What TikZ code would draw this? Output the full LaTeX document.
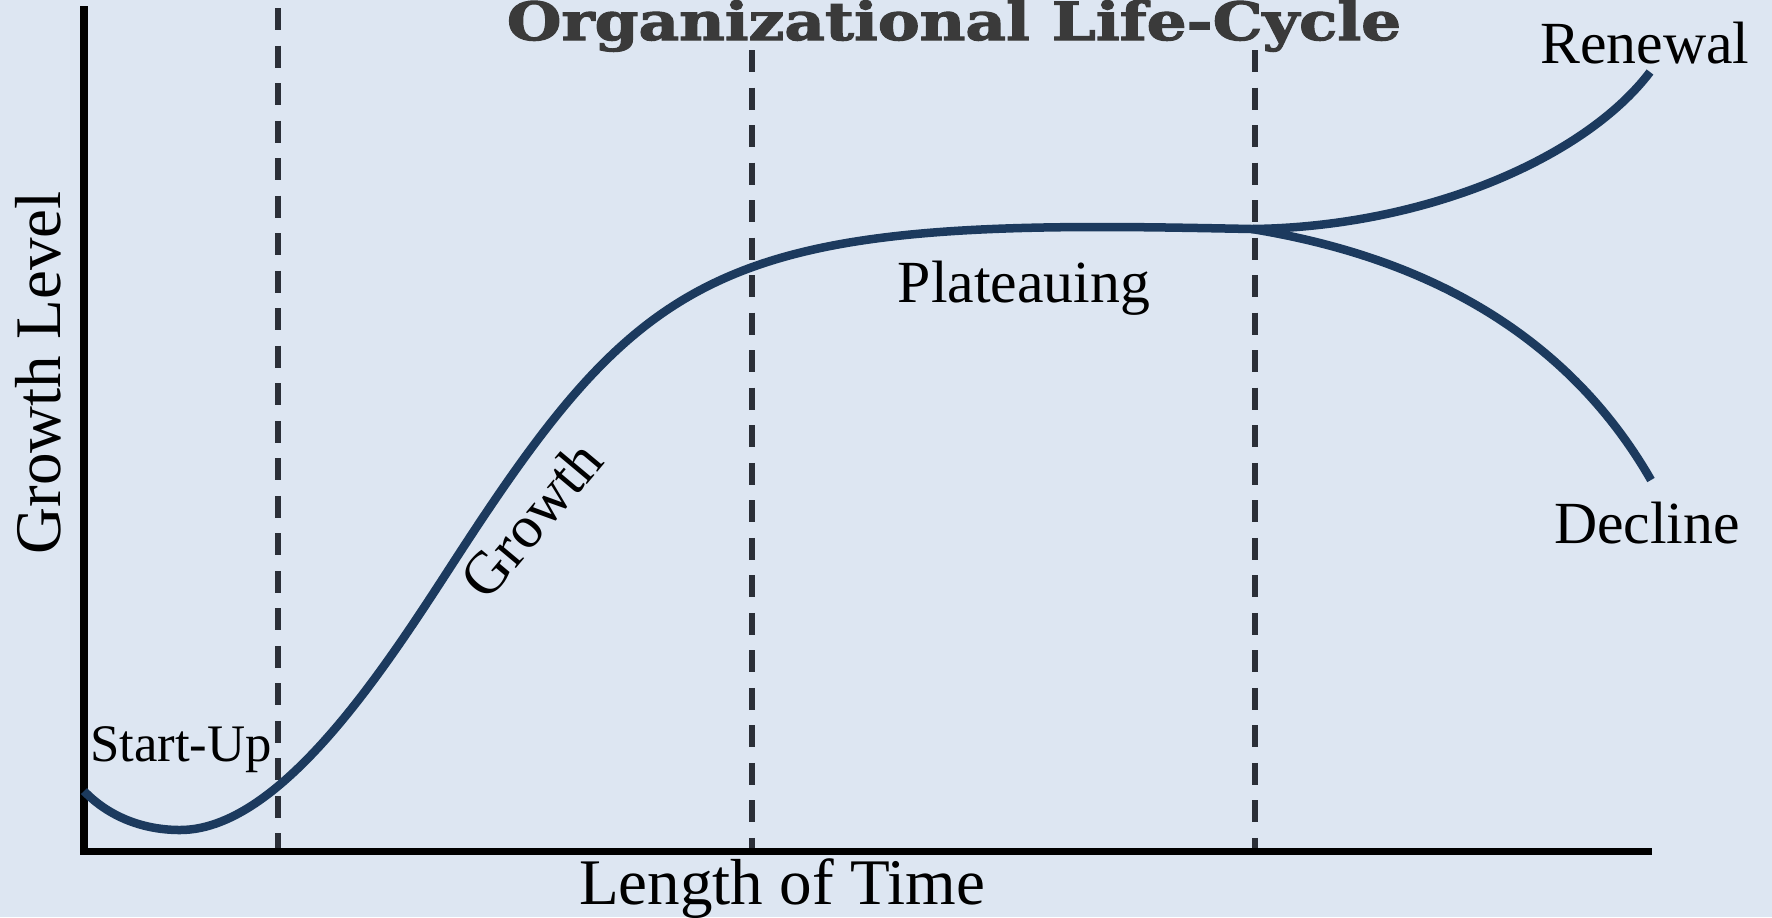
\documentclass[tikz,border=0pt]{standalone}
\usepackage{fontspec}
\setmainfont{Liberation Serif}
\newfontfamily\headfont[BoldFeatures={FakeBold=2}]{DejaVu Serif}
\usetikzlibrary{positioning}
\definecolor{bgblue}{HTML}{DDE6F2}
\definecolor{navy}{HTML}{1C3A5E}
\definecolor{headgray}{HTML}{3A3A3A}
\definecolor{dashgray}{HTML}{2B2F38}
\tikzstyle{lbl}=[inner sep=0pt, font=\fontsize{17}{20}\selectfont]
\tikzstyle{axislbl}=[inner sep=0pt, font=\fontsize{18.5}{22}\selectfont]
\tikzstyle{axis}=[line width=0.7mm, black]
\tikzstyle{phase}=[line width=0.55mm, dashgray, dash pattern=on 2.2mm off 1.55mm]
\tikzstyle{life}=[line width=0.85mm, navy]

\begin{document}
\begin{tikzpicture}[x=0.01cm, y=-0.01cm]
	\fill[bgblue] (0,0) rectangle (1772,917);
	\useasboundingbox (0,0) rectangle (1772,917);
	% axes
	\coordinate (o) at (84,851);
	\coordinate (ytop) at (84,6);
	\coordinate (xend) at (1652,851);
	\draw[axis] (ytop) -- (o) -- (xend);
	% phase borders
	\coordinate (p1) at (278,8);
	\coordinate (p1b) at (278,848);
	\coordinate (p2) at (752,50);
	\coordinate (p2b) at (752,848);
	\coordinate (p3) at (1255,50);
	\coordinate (p3b) at (1255,848);
	\draw[phase] (p1) -- (p1b);
	\draw[phase] (p2) -- (p2b);
	\draw[phase] (p3) -- (p3b);
	% life curve
	\coordinate (c0) at (84,791);
	\coordinate (cmin) at (180,830);
	\coordinate (cinf) at (470,537);
	\coordinate (ctop) at (1100,227);
	\coordinate (csplit) at (1252,229);
	\coordinate (cren) at (1650,72);
	\coordinate (cdec) at (1651,480);
	\draw[life] (c0) .. controls (110,818) and (145,830) .. (cmin)
		.. controls (290,830) and (404,637) .. (cinf)
		.. controls (635,286) and (720,227) .. (ctop)
		.. controls (1150,227) and (1200,228) .. (csplit);
	\draw[life] (csplit) .. controls (1425,227) and (1585,158) .. (cren);
	\draw[life] (csplit) .. controls (1380,250) and (1551,306) .. (cdec);
	% labels
	\node[inner sep=0pt, anchor=base, xscale=1.19, text=headgray, font=\headfont\bfseries\fontsize{15}{18}\selectfont] (t) at (954,40) {Organizational Life-Cycle};
	\node[axislbl, rotate=90] (yl) at (38,373) {Growth Level};
	\node[axislbl] (xl) at (782,889) {Length of Time};
	\node[lbl, font=\fontsize{15}{18}\selectfont] (su) at (181,750) {Start-Up};
	\node[lbl, rotate=50] (gr) at (531,519) {Growth};
	\node[lbl] (pl) at (1024,288) {Plateauing};
	\node[lbl] (rn) at (1645,43) {Renewal};
	\node[lbl] (dc) at (1647,523) {Decline};
\end{tikzpicture}
\end{document}
